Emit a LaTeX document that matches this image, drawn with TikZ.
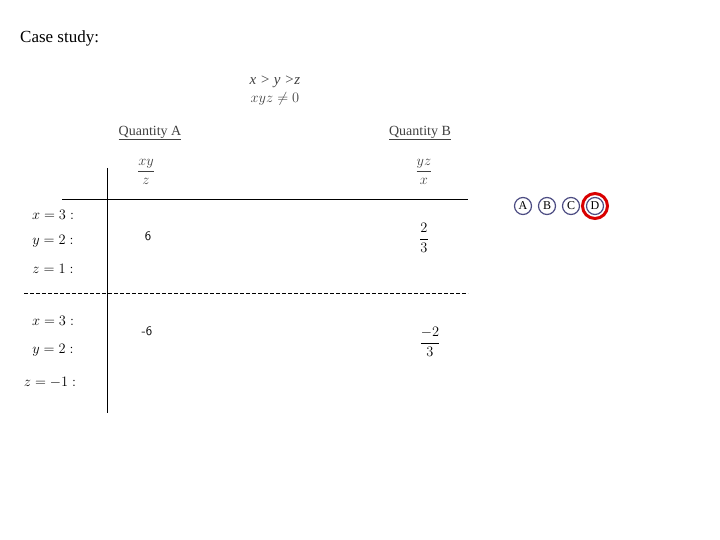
\documentclass[tikz,border=0pt]{standalone}
\usepackage{fontspec}
\setmainfont{Liberation Serif}
\begin{document}
\begin{tikzpicture}[x=1pt,y=-1pt,
  lbl/.style={inner sep=0pt,font=\fontsize{14}{16}\selectfont,text=black!75},
  eq/.style={inner sep=0pt,font=\fontsize{14}{16}\selectfont},
  opt/.style={draw=blue!30!black!70,line width=1.2pt,circle,minimum size=17pt,inner sep=0pt,font=\fontsize{12}{13}\selectfont}]
\useasboundingbox (0,0) rectangle (720,540);
\node[anchor=west,inner sep=0pt,font=\fontsize{17}{19}\selectfont] (title) at (20,38) {Case study:};
\node[lbl,font=\fontsize{15}{17}\selectfont\itshape] (c1) at (275,82) {x > y >z};
\node[lbl,font=\fontsize{15}{17}\selectfont] (c2) at (275,99) {$xyz\neq0$};
\node[lbl] (qa) at (150,133) {\underline{Quantity A}};
\node[lbl] (qb) at (420,133) {\underline{Quantity B}};
\node[lbl,font=\fontsize{15}{17}\selectfont] (fa) at (146,172) {$\displaystyle\frac{xy}{z}$};
\node[lbl,font=\fontsize{15}{17}\selectfont] (fb) at (424,172) {$\displaystyle\frac{yz}{x}$};
\coordinate (h1) at (62,199); \coordinate (h2) at (468,199);
\coordinate (v1) at (107,168); \coordinate (v2) at (107,413);
\coordinate (d1) at (24,293); \coordinate (d2) at (468,293);
\draw[line width=0.8pt] (h1) -- (h2);
\draw[line width=0.8pt] (v1) -- (v2);
\draw[dash pattern=on 4pt off 2pt] (d1) -- (d2);
\node[eq] (x1) at (53,215) {$x=3:$};
\node[eq] (y1) at (53,241) {$y=2:$};
\node[eq] (z1) at (53,269) {$z=1:$};
\node[eq] (x2) at (53,321) {$x=3:$};
\node[eq] (y2) at (53,350) {$y=2:$};
\node[eq] (z2) at (50,382) {$z=-1:$};
\node[inner sep=0pt,font=\sffamily\fontsize{13}{14}\selectfont] (v6) at (148,236) {6};
\node[inner sep=0pt,font=\sffamily\fontsize{13}{14}\selectfont] (vm6) at (147,331) {-6};
\node[eq,font=\fontsize{15}{17}\selectfont] (f23) at (424,238) {$\displaystyle\frac{2}{3}$};
\node[eq,font=\fontsize{15}{17}\selectfont] (fm23) at (430,342) {$\displaystyle\frac{-2}{3}$};
\node[opt] (A) at (523,206) {A};
\node[opt] (B) at (547,206) {B};
\node[opt] (C) at (571,206) {C};
\node[opt] (D) at (595,206) {D};
\draw[red!85!black,line width=3pt] (D) circle (12.5pt);
\end{tikzpicture}
\end{document}
